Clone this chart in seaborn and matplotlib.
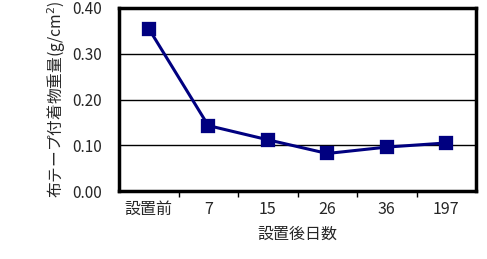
import matplotlib
matplotlib.use("Agg")
import matplotlib.pyplot as plt
import seaborn as sns
import pandas as pd

categories = ["設置前", "7", "15", "26", "36", "197"]
values = [0.355, 0.143, 0.112, 0.082, 0.096, 0.105]
yticks = [0.0, 0.1, 0.2, 0.3, 0.4]

sns.set_theme(style="white")
plt.rcParams['font.family'] = ['Noto Sans CJK JP', 'DejaVu Sans']

df = pd.DataFrame({"day": categories, "w": values})

fig = plt.figure(figsize=(4.87, 2.59), dpi=100)
ax = fig.add_axes([119/487, 1-191/259, 357/487, 183/259])

sns.pointplot(data=df, x="day", y="w", order=categories, color="#000080",
              markers="s", markersize=9, linewidth=2.2, ax=ax, zorder=3)

ax.set_xlim(-0.5, len(categories)-0.5)
ax.set_ylim(0, 0.4)
ax.set_yticks(yticks)
ax.set_yticklabels([f"{v:.2f}" for v in yticks], fontsize=11)
for v in yticks[1:-1]:
    ax.axhline(v, color="black", lw=1, zorder=1)

ax.set_xticks(range(len(categories)))
ax.set_xticklabels(categories, fontsize=11.5)
ax.set_xticks([i + 0.5 for i in range(len(categories)-1)], minor=True)
ax.tick_params(axis="x", which="major", length=0, pad=7)
ax.tick_params(axis="x", which="minor", length=4, width=1, color="black", direction="out", bottom=True)
ax.tick_params(axis="y", length=0, pad=12)

for s in ax.spines.values():
    s.set_color("black")
    s.set_linewidth(2.5)

ax.set_xlabel("設置後日数", fontsize=11.5, labelpad=6)
ax.set_ylabel("布テープ付着物重量(g/cm$^2$)", fontsize=11.3, labelpad=3)

fig.savefig("out.png", dpi=100)
